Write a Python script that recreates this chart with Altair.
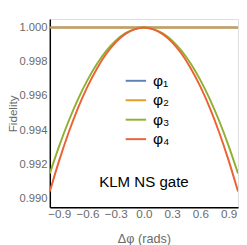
import altair as alt
import pandas as pd

# Δφ values (rads)
dphi = [-1.0, -0.9, -0.8, -0.7, -0.6, -0.5, -0.4, -0.3, -0.2, -0.1, 0.0,
        0.1, 0.2, 0.3, 0.4, 0.5, 0.6, 0.7, 0.8, 0.9, 1.0]
# fidelity per phase
fid_phi1 = [1.0] * 21
fid_phi2 = [1.0] * 21
fid_phi3 = [0.99147, 0.99309, 0.99454, 0.99582, 0.99693, 0.99787, 0.99864, 0.99923,
            0.99966, 0.99991, 1.0, 0.99991, 0.99966, 0.99923, 0.99864, 0.99787,
            0.99693, 0.99582, 0.99454, 0.99309, 0.99147]
fid_phi4 = [0.99042, 0.99224, 0.99387, 0.99531, 0.99655, 0.99760, 0.99847, 0.99914,
            0.99962, 0.99990, 1.0, 0.99990, 0.99962, 0.99914, 0.99847, 0.99760,
            0.99655, 0.99531, 0.99387, 0.99224, 0.99042]
series_names = ["φ₁", "φ₂", "φ₃", "φ₄"]
series_colors = ["#5E81B5", "#E19C24", "#8FB032", "#EB6235"]
x_ticks = [-0.9, -0.6, -0.3, 0.0, 0.3, 0.6, 0.9]
y_ticks = [0.990, 0.992, 0.994, 0.996, 0.998, 1.000]
note_text = ["KLM NS gate"]
note_x = [0.0]
note_y = [0.99097]

rows = []
for name, vals in zip(series_names, [fid_phi1, fid_phi2, fid_phi3, fid_phi4]):
    for i, (xv, yv) in enumerate(zip(dphi, vals)):
        rows.append({"x": xv, "y": yv, "series": name, "order": i})
df = pd.DataFrame(rows)
note_df = pd.DataFrame({"x": note_x, "y": note_y, "t": note_text})

FONT = "Liberation Sans"
GRAY = "#6a6a6a"

xscale = alt.Scale(domain=[-1.0, 1.0], nice=False, zero=False)
yscale = alt.Scale(domain=[0.9895, 1.0005], nice=False, zero=False)

x_axis = alt.Axis(title="Δφ (rads)", values=x_ticks, format=".1f",
                  tickSize=0, labelPadding=2, labelFontSize=12,
                  labelOverlap=False, labelFlush=False,
                  labelColor=GRAY, titleColor=GRAY, titleFontSize=13,
                  titleFontWeight="normal", titlePadding=13,
                  domainColor="#000000", domainWidth=1.5, grid=False,
                  labelFont=FONT, titleFont=FONT)
y_axis = alt.Axis(title="Fidelity", values=y_ticks, format=".3f",
                  tickSize=0, labelPadding=3, labelFontSize=11.5,
                  labelOverlap=False, labelFlush=False,
                  labelColor=GRAY, titleColor=GRAY, titleFontSize=12,
                  titleFontWeight="normal", titleX=-38, titleY=97,
                  titleAngle=270, titleAlign="center", titleBaseline="middle",
                  domainColor="#000000", domainWidth=1.5, grid=False,
                  labelFont=FONT, titleFont=FONT)

lines = alt.Chart(df).mark_line(strokeWidth=2, interpolate="monotone", clip=True).encode(
    x=alt.X("x:Q", scale=xscale, axis=x_axis),
    y=alt.Y("y:Q", scale=yscale, axis=y_axis),
    color=alt.Color("series:N",
                    scale=alt.Scale(domain=series_names, range=series_colors),
                    legend=alt.Legend(title=None, orient="none", legendX=77, legendY=52,
                                      symbolType="stroke", symbolSize=441,
                                      symbolStrokeWidth=2, labelFontSize=16,
                                      labelColor="#000000", labelFont=FONT,
                                      labelOffset=6, rowPadding=-3, padding=0)),
    order=alt.Order("order:Q"),
)

note = alt.Chart(note_df).mark_text(fontSize=15.5, font=FONT, color="#000000").encode(
    x=alt.X("x:Q", scale=xscale, axis=x_axis),
    y=alt.Y("y:Q", scale=yscale, axis=y_axis),
    text="t:N",
)

chart = alt.layer(lines, note).properties(
    width=193.5, height=193.5,
    padding={"left": 43, "top": 8, "right": 1, "bottom": 36},
    autosize=alt.AutoSizeParams(type="none"),
).configure_view(
    stroke="#333333", strokeWidth=1.2
).configure_axis(
    labelOverlap=False, labelFlush=False
).configure(background="white")

chart.save("out.html", embed_options={"renderer": "svg", "actions": False})
